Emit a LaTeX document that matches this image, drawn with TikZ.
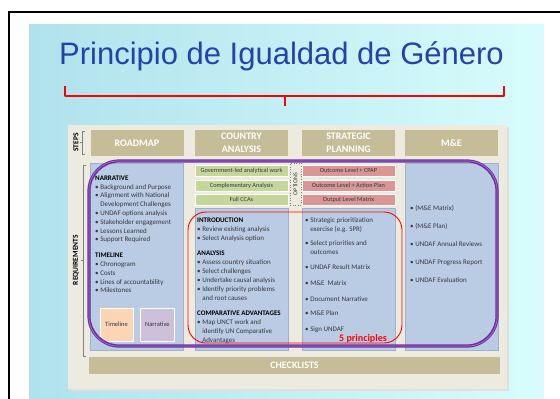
\documentclass[tikz,border=0pt]{standalone}
\usepackage{fontspec}
\setmainfont{Carlito}
\newfontfamily\titlefont{Liberation Sans}
\usetikzlibrary{positioning}

\definecolor{skyleft}{RGB}{176,226,236}
\definecolor{skyright}{RGB}{216,252,252}
\definecolor{titleblue}{RGB}{36,66,170}
\definecolor{panel}{RGB}{237,234,223}
\definecolor{khaki}{RGB}{196,189,151}
\definecolor{reqblue}{RGB}{185,204,228}
\definecolor{reqedge}{RGB}{160,178,200}
\definecolor{optgreen}{RGB}{196,215,155}
\definecolor{optred}{RGB}{217,150,148}
\definecolor{peach}{RGB}{252,213,181}
\definecolor{lavender}{RGB}{204,192,218}
\definecolor{darktext}{RGB}{55,55,62}
\definecolor{ringpurple}{RGB}{112,48,160}
\definecolor{ringlight}{RGB}{160,110,205}

\newcommand{\bul}{\textbullet\ }
\newcommand{\cont}{\phantom{\textbullet\ }}

\begin{document}
\begin{tikzpicture}[x=1pt,y=-1pt,
  stepbox/.style={fill=khaki,text=white,font=\bfseries\fontsize{10}{13}\selectfont,
    align=center,inner sep=0pt,minimum width=93pt,minimum height=26pt},
  reqcol/.style={fill=reqblue,draw=reqedge,line width=0.4pt,inner sep=0pt,minimum width=93pt},
  optbox/.style={draw=white,line width=0.4pt,inner sep=0pt,minimum width=93pt,
    minimum height=11pt,font=\fontsize{6.3}{7}\selectfont,text=darktext},
  coltext/.style={anchor=north west,inner sep=0pt,align=left,
    font=\fontsize{7}{9}\selectfont,text=darktext},
  sidelabel/.style={rotate=90,font=\bfseries\fontsize{7.5}{8}\selectfont},
  bracketline/.style={draw=gray,line width=0.5pt},
]
\useasboundingbox (0,0) rectangle (560,399);
\fill[white] (0,0) rectangle (560,399);

% frame and slide background
\draw[line width=1.3pt] (9,399) -- (9,12) -- (560,12);
\shade[left color=skyleft,right color=skyright] (29,24) rectangle (544,399);

% title and brace
\node[text=titleblue,font=\titlefont\fontsize{31}{36}\selectfont,anchor=base,inner sep=0pt]
  (title) at (281.5,64) {Principio de Igualdad de Género};
\draw[red,line width=1.5pt,line join=round] (65,86) -- (65,96) -- (504,96) -- (504,86);
\draw[red,line width=1.5pt] (285,96) -- (285,106);

% panel
\fill[black!12] (70,127) rectangle (509,391);
\fill[panel] (68,125) rectangle (507,389);

% side labels
\node[sidelabel] (steps) at (76,142.5) {STEPS};
\draw[bracketline] (85,131) -- (82,131) -- (82,154) -- (85,154);
\draw[bracketline] (82,142.5) -- (80,142.5);
\node[sidelabel] (reqs) at (76,260) {REQUIREMENTS};
\draw[bracketline] (86,165) -- (83,165) -- (83,356) -- (86,356);
\draw[bracketline] (83,260) -- (81,260);

% steps
\node[stepbox] (roadmap) at (137,143) {ROADMAP};
\node[stepbox] (country) at (241.5,143) {COUNTRY\\ANALYSIS};
\node[stepbox] (strategic) at (348.5,143) {STRATEGIC\\PLANNING};
\node[stepbox] (mande) at (451.5,143) {M\&E};

% requirement columns
\node[reqcol,minimum height=187pt] (colroad) at (137,256.5) {};
\node[reqcol,minimum height=142pt] (colcountry) at (241.5,279) {};
\node[reqcol,minimum height=142pt] (colstrat) at (348.5,279) {};
\node[reqcol,minimum height=187pt] (colme) at (451.5,256.5) {};

% options
\node[optbox,fill=optgreen] (gov) at (241.5,170.5) {Government-led analytical work};
\node[optbox,fill=optgreen] (compl) at (241.5,185.5) {Complementary Analysis};
\node[optbox,fill=optgreen] (fullcca) at (241.5,199.5) {Full CCAs};
\node[optbox,fill=optred] (cpap) at (348.5,170.5) {Outcome Level + CPAP};
\node[optbox,fill=optred] (action) at (348.5,185.5) {Outcome Level + Action Plan};
\node[optbox,fill=optred] (output) at (348.5,199.5) {Output Level Matrix};
\node[draw=gray,dotted,line width=0.6pt,minimum width=11pt,minimum height=42pt,inner sep=0pt]
  (options) at (295.5,184) {};
\node[rotate=90,font=\fontsize{6}{7}\selectfont,text=darktext] at (options.center) {OPTIONS};

% column texts
\node[coltext,font=\fontsize{7}{8.8}\selectfont] (roadtext) at (95,175.5) {%
{\bfseries\color{black}NARRATIVE}\\
\bul Background and Purpose\\
\bul Alignment with National\\
\cont Development Challenges\\
\bul UNDAF options analysis\\
\bul Stakeholder engagement\\
\bul Lessons Learned\\
\bul Support Required\\[7pt]
{\bfseries\color{black}TIMELINE}\\
\bul Chronogram\\
\bul Costs\\
\bul Lines of accountability\\
\bul Milestones};
\node[fill=peach,draw=white,line width=0.4pt,minimum width=33pt,minimum height=33pt,inner sep=0pt,
  font=\fontsize{6.5}{7}\selectfont,text=darktext] (timeline) at (116.5,324.5) {Timeline};
\node[fill=lavender,draw=white,line width=0.4pt,minimum width=34pt,minimum height=33pt,inner sep=0pt,
  font=\fontsize{6.5}{7}\selectfont,text=darktext,right=7pt of timeline] (narrative) {Narrative};

\node[coltext] (countrytext) at (197,217.5) {%
{\bfseries\color{black}INTRODUCTION}\\
\bul Review existing analysis\\
\bul Select Analysis option\\[6pt]
{\bfseries\color{black}ANALYSIS}\\
\bul Assess country situation\\
\bul Select challenges\\
\bul Undertake causal analysis\\
\bul Identify priority problems\\
\cont and root causes\\[6pt]
{\bfseries\color{black}COMPARATIVE ADVANTAGES}\\
\bul Map UNCT work and\\
\cont identify UN Comparative\\
\cont Advantages};

\node[coltext] (strattext) at (305,217.5) {%
\bul Strategic prioritization\\
\cont exercise (e.g. SPR)\\[5pt]
\bul Select priorities and\\
\cont outcomes\\[6pt]
\bul UNDAF Result Matrix\\[7pt]
\bul M\&E\ \ Matrix\\[7pt]
\bul Document Narrative\\[5pt]
\bul M\&E Plan\\[7pt]
\bul Sign UNDAF};

\node[coltext,font=\fontsize{7}{18}\selectfont] (metext) at (410,205.5) {%
\bul (M\&E Matrix)\\
\bul (M\&E Plan)\\
\bul UNDAF Annual Reviews\\
\bul UNDAF Progress Report\\
\bul UNDAF Evaluation};

% rings
\draw[ringpurple,line width=3.2pt,rounded corners=30pt] (89,161) rectangle (497,346);
\draw[ringlight,line width=0.7pt,rounded corners=29pt] (89,161) rectangle (497,346);
\draw[red,line width=0.9pt,rounded corners=18pt] (188,212) rectangle (402,343);
\node[text=red,font=\bfseries\fontsize{10}{12}\selectfont,anchor=base east,inner sep=0pt]
  (principles) at (387,341) {5 principles};

% checklists
\node[fill=khaki,text=white,font=\bfseries\fontsize{10}{12}\selectfont,minimum width=411pt,
  minimum height=17pt,inner sep=0pt] (checklists) at (294.5,365.5) {CHECKLISTS};
\end{tikzpicture}
\end{document}
